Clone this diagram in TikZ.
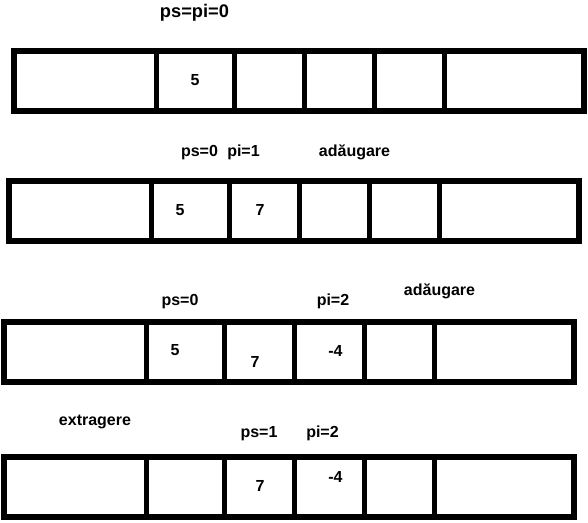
\documentclass[tikz,border=0pt]{standalone}
\usepackage{fontspec}
\setmainfont{Liberation Sans}
\usetikzlibrary{positioning}
\tikzset{
  cellbox/.style={draw=black, line width=4.1pt, minimum height=45pt,
                  inner sep=0pt, outer sep=0pt, anchor=north west},
  valtxt/.style={font=\bfseries\fontsize{12}{14}\selectfont, inner sep=0pt},
  labtxt/.style={font=\bfseries\fontsize{12}{14}\selectfont, inner sep=0pt, anchor=base},
}

\begin{document}
\begin{tikzpicture}[x=0.75pt, y=-0.75pt]
  \useasboundingbox (0,0) rectangle (588,522);

  % --- the four states of the queue ---------------------------------
  \foreach \row/\xo/\yo in {1/14/51, 2/9/181, 3/4/322, 4/4/457} {
    \foreach \a/\b [count=\i] in {0/142.5, 142.5/220.5, 220.5/290.5,
                                  290.5/360.5, 360.5/430.5, 430.5/570} {
      \pgfmathsetmacro\w{(\b-\a)*0.75}
      \node[cellbox, minimum width=\w pt] (r\row-\i) at (\xo+\a, \yo) {};
    }
  }

  % --- state 1 -------------------------------------------------------
  \node[labtxt, font=\bfseries\fontsize{13.7}{16}\selectfont] (title) at (194.5,17) {ps=pi=0};
  \node[valtxt] (v1a) at (195,80) {5};

  % --- state 2: adaugare ---------------------------------------------
  \node[labtxt] (ps2) at (199.5,156) {ps=0};
  \node[labtxt] (pi2) at (243.5,156) {pi=1};
  \node[labtxt] (add2) at (354.5,156) {adăugare};
  \node[valtxt] (v2a) at (180,210) {5};
  \node[valtxt] (v2b) at (260,210) {7};

  % --- state 3: adaugare ---------------------------------------------
  \node[labtxt] (ps3) at (180,305) {ps=0};
  \node[labtxt] (pi3) at (333,305) {pi=2};
  \node[labtxt] (add3) at (439.5,295) {adăugare};
  \node[valtxt] (v3a) at (175,350) {5};
  \node[valtxt] (v3b) at (255,361.5) {7};
  \node[valtxt] (v3c) at (335.5,351) {-4};

  % --- state 4: extragere --------------------------------------------
  \node[labtxt] (ext4) at (95,425) {extragere};
  \node[labtxt] (ps4) at (259,437) {ps=1};
  \node[labtxt] (pi4) at (322.5,437) {pi=2};
  \node[valtxt] (v4b) at (260,485.5) {7};
  \node[valtxt] (v4c) at (335.5,477) {-4};

\end{tikzpicture}
\end{document}
